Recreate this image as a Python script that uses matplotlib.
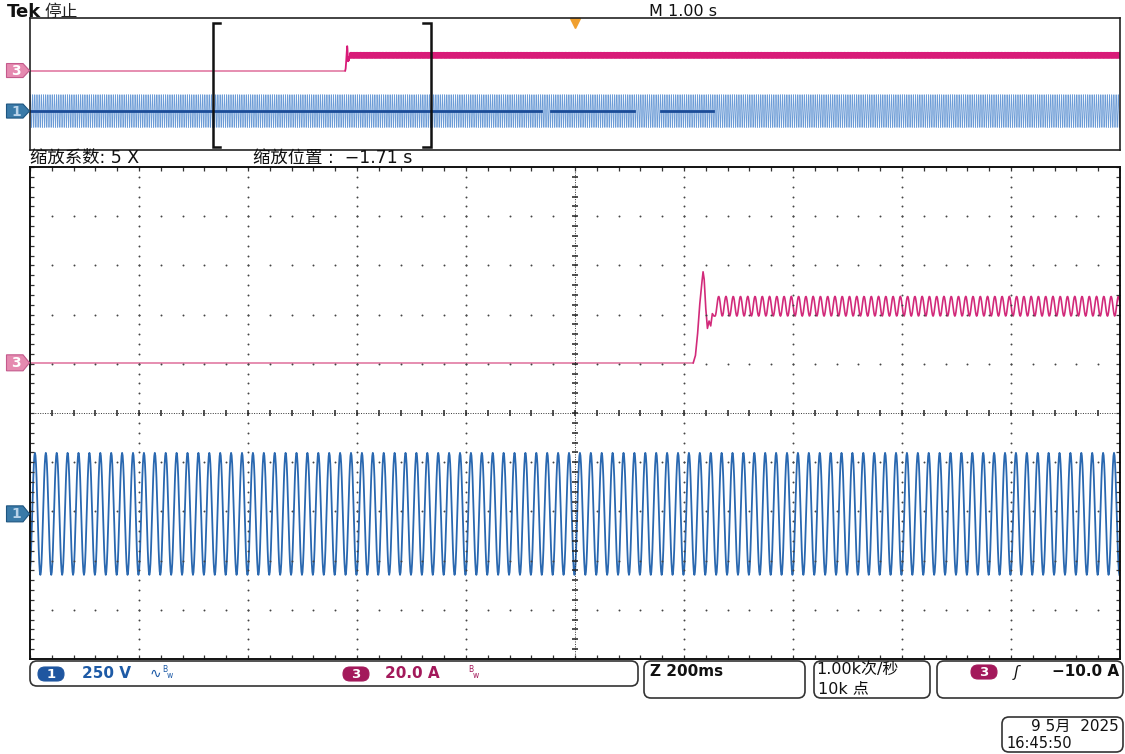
import numpy as np
import matplotlib
matplotlib.use("Agg")
import matplotlib.pyplot as plt
from matplotlib import transforms
from matplotlib.patches import Polygon, FancyBboxPatch

plt.rcParams['font.family'] = ['DejaVu Sans', 'Noto Sans CJK SC']

# ---- acquisition settings ----
record_length_s = 10.0      # M 1.00 s, 10 divisions
sample_rate = 1000.0        # 1.00k samples/s, 10k points
zoom_start_s = 1.675        # left edge of the 5X zoom window
zoom_span_s = 2.0           # Z 200 ms/div x 10 div
trigger_s = 5.0

# ---- channel 1: mains voltage ----
ch1_scale_v = 250.0         # V/div
ch1_offset_div = -2.05
ch1_peak_v = 310.0
ch1_freq_hz = 50.0
ch1_phase = 0.3

# ---- channel 3: load current ----
ch3_scale_a = 20.0          # A/div
ch3_offset_div = 1.02
ch3_step_s = 2.892
ch3_step_ms = [0, 4, 8, 12, 16, 18, 20, 23, 26, 29, 32, 35, 38]
ch3_step_a = [0, 3, 12, 24, 33, 37, 34, 22, 14, 17, 15, 20, 19]
ch3_mean_a = 23.0
ch3_ripple_a = 4.0
ch3_ripple_hz = 75.0
ch3_ripple_start_ms = 40

# dark centre trace drawn by the scope in the overview (start, end in s)
ch1_overview_mid = [(0.0, 4.69), (4.78, 5.54), (5.79, 6.27)]

C_CH1 = '#2a68b0'
C_CH1_LIGHT = '#6b9bd6'
C_CH3 = '#d22a7a'
C_CH3_LIGHT = '#e27aa3'

W, H = 1125, 754
fig = plt.figure(figsize=(W / 100, H / 100), dpi=100)
fig.patch.set_facecolor('white')


def fig_rect(x0, y0, x1, y1):
    return [x0 / W, 1 - y1 / H, (x1 - x0) / W, (y1 - y0) / H]


ov = fig.add_axes(fig_rect(30, 18, 1120, 150))
ax = fig.add_axes(fig_rect(30, 167, 1120, 659))
hud = fig.add_axes([0, 0, 1, 1], zorder=10)
hud.set_xlim(0, W)
hud.set_ylim(H, 0)
hud.axis('off')

# ---- waveforms ----
t = np.arange(0, record_length_s, 1 / sample_rate)
v1 = ch1_peak_v * np.sin(2 * np.pi * ch1_freq_hz * t + ch1_phase)

t_step = ch3_step_s + np.array(ch3_step_ms) / 1000.0
i_step = np.array(ch3_step_a, dtype=float)
t_rip = np.arange(ch3_step_s + ch3_ripple_start_ms / 1000.0, record_length_s, 1 / sample_rate)
i_rip = ch3_mean_a + ch3_ripple_a * np.sin(
    2 * np.pi * ch3_ripple_hz * (t_rip - t_rip[0]) - np.pi / 2)
t3_on = np.concatenate([t_step, t_rip])
i3_on = np.concatenate([i_step, i_rip])


def ch1_div(v):
    return v / ch1_scale_v + ch1_offset_div


def ch3_div(i):
    return np.asarray(i) / ch3_scale_a + ch3_offset_div


# overview window
ov.plot(t, ch1_div(v1), color=C_CH1_LIGHT, lw=0.55)
for a, b in ch1_overview_mid:
    ov.plot([a, b], [ch1_offset_div, ch1_offset_div], color='#1b4c98', lw=2.0)
ov.plot([0, ch3_step_s], ch3_div([0, 0]), color=C_CH3_LIGHT, lw=1.2)
ov.plot(t3_on, ch3_div(i3_on), color='#d81b78', lw=1.3)
ov.set_xlim(0, record_length_s)
ov.set_ylim(-5, 5)
ov.set_xticks([])
ov.set_yticks([])
for s in ov.spines.values():
    s.set_color('#222')
    s.set_linewidth(1.2)

# zoom bracket
z0, z1 = zoom_start_s, zoom_start_s + zoom_span_s
serif = 0.07
for x, d in ((z0, serif), (z1, -serif)):
    ov.plot([x + d, x, x, x + d], [4.6, 4.6, -4.75, -4.75], color='#111', lw=1.8,
            solid_joinstyle='miter')
ov.plot([trigger_s], [4.6], marker='v', color='#f0a030', ms=7, clip_on=False)

# zoomed main window
m = (t >= z0) & (t <= z1)
ax.plot(t[m], ch1_div(v1[m]), color=C_CH1, lw=1.3)
ax.plot([z0, ch3_step_s], ch3_div([0, 0]), color=C_CH3_LIGHT, lw=1.2)
m3 = t3_on <= z1
ax.plot(t3_on[m3], ch3_div(i3_on[m3]), color=C_CH3, lw=1.2)
ax.set_xlim(z0, z1)
ax.set_ylim(-5, 5)
ax.set_xticks([])
ax.set_yticks([])
for s in ax.spines.values():
    s.set_color('#111')
    s.set_linewidth(1.4)

# graticule (in divisions)
div_t = zoom_span_s / 10
minor_y = np.arange(-5, 5.001, 0.2)
minor_x = z0 + np.arange(0, 10.001, 0.2) * div_t
dot = dict(ls='none', marker='o', ms=1.4, color='#444', mec='none')
for k in range(1, 10):
    if k == 5:
        continue
    ax.plot(np.full(minor_y.size, z0 + k * div_t), minor_y, **dot)
for k in range(-4, 5):
    if k == 0:
        continue
    ax.plot(minor_x, np.full(minor_x.size, k), **dot)
xc = z0 + 5 * div_t
ax.plot([xc, xc], [-5, 5], color='#333', lw=0.7, ls=(0, (1, 1.5)))
ax.plot([z0, z1], [0, 0], color='#333', lw=0.7, ls=(0, (1, 1.5)))
ax.plot(np.full(minor_y.size, xc), minor_y, ls='none', marker='_', ms=5, mew=1.1, color='#222')
ax.plot(minor_x, np.zeros(minor_x.size), ls='none', marker='|', ms=5, mew=1.1, color='#222')
ax.plot(np.full(minor_y.size, z0), minor_y, ls='none', marker='_', ms=6, mew=0.9, color='#333')
ax.plot(np.full(minor_y.size, z1), minor_y, ls='none', marker='_', ms=6, mew=0.9, color='#333')
ax.plot(minor_x, np.full(minor_x.size, 5), ls='none', marker='|', ms=6, mew=0.9, color='#333')
ax.plot(minor_x, np.full(minor_x.size, -5), ls='none', marker='|', ms=6, mew=0.9, color='#333')


# channel position markers
def badge(a, y_div, label, fc, ec, tc, hh=0.075):
    base = transforms.blended_transform_factory(a.transAxes, a.transData)
    tr = fig.dpi_scale_trans + transforms.ScaledTranslation(0, y_div, base)
    verts = [(-0.235, -hh), (-0.07, -hh), (-0.005, 0), (-0.07, hh), (-0.235, hh)]
    a.add_patch(Polygon(verts, closed=True, transform=tr, fc=fc, ec=ec, lw=0.8,
                        clip_on=False, zorder=5))
    a.text(-0.14, -0.005, label, transform=tr, ha='center', va='center', color=tc,
           fontsize=10, fontweight='bold', zorder=6, clip_on=False)


for a, hh in ((ov, 0.07), (ax, 0.08)):
    badge(a, ch3_offset_div, '3', '#e58ab0', '#c45a8c', 'white', hh)
    badge(a, ch1_offset_div, '1', '#3a7aa8', '#1d5580', '#b9d3ea', hh)

# ---- header text ----
hud.text(7, 12, 'Tek', fontsize=13, fontweight='bold', va='center', ha='left', color='#111')
hud.text(44, 12, '停止', fontsize=12, va='center', ha='left', color='#222')
hud.text(649, 11, 'M 1.00 s', fontsize=11.5, va='center', color='#111')
hud.text(30, 158, '缩放系数: 5 X', fontsize=12.5, va='center', color='#111')
hud.text(253, 158, '缩放位置 :  −1.71 s', fontsize=12.5, va='center', color='#111')


# ---- status bar ----
def box(x0, y0, x1, y1):
    hud.add_patch(FancyBboxPatch((x0, y0), x1 - x0, y1 - y0,
                                 boxstyle='round,pad=0,rounding_size=7',
                                 fc='none', ec='#333', lw=1.2))


def pill(xc, yc, label, fc):
    hud.add_patch(FancyBboxPatch((xc - 13, yc - 7), 26, 14,
                                 boxstyle='round,pad=0,rounding_size=7',
                                 fc=fc, ec=fc, lw=0.8))
    hud.text(xc, yc, label, ha='center', va='center', color='white', fontsize=9.5,
             fontweight='bold')


box(30, 661, 638, 686)
pill(51, 674, '1', '#1f56a0')
hud.text(82, 674, '250 V', fontsize=11, fontweight='bold', color='#1d5aa6', va='center')
hud.text(150, 674, '∿', fontsize=10, color='#1d5aa6', va='center')
hud.text(162, 670, 'B', fontsize=5.5, color='#1d5aa6', va='center')
hud.text(167, 675, 'w', fontsize=5.5, color='#1d5aa6', va='center')
pill(356, 674, '3', '#a3195b')
hud.text(385, 674, '20.0 A', fontsize=11, fontweight='bold', color='#a3195b', va='center')
hud.text(468, 670, 'B', fontsize=5.5, color='#a3195b', va='center')
hud.text(473, 675, 'w', fontsize=5.5, color='#a3195b', va='center')

box(644, 661, 805, 698)
hud.text(650, 672, 'Z 200ms', fontsize=11, fontweight='bold', color='#111', va='center')

box(814, 661, 930, 698)
hud.text(816, 669, '1.00k次/秒', fontsize=11.5, color='#111', va='center')
hud.text(818, 689, '10k 点', fontsize=11.5, color='#111', va='center')

box(937, 661, 1123, 698)
pill(984, 672, '3', '#a3195b')
hud.text(1014, 672, 'ʃ', fontsize=11, fontstyle='italic', color='#111', va='center')
hud.text(1119, 672, '−10.0 A', fontsize=11, fontweight='bold', color='#111', va='center',
         ha='right')

box(1002, 717, 1123, 752)
hud.text(1119, 726, '9 5月  2025', fontsize=11, color='#111', va='center', ha='right')
hud.text(1006, 744, '16:45:50', fontsize=10.5, color='#111', va='center', ha='left')

fig.savefig('out.png', dpi=100, facecolor='white')
